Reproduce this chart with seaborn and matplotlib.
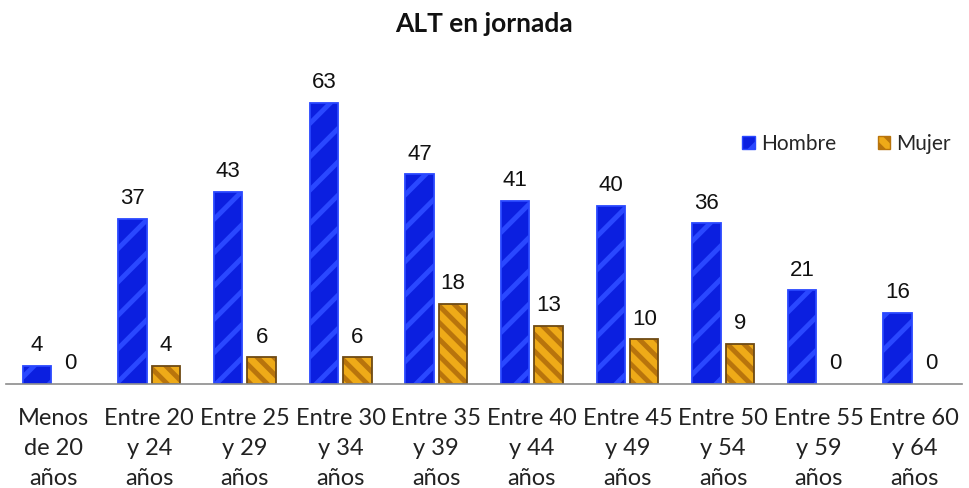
import matplotlib
matplotlib.use("Agg")
import matplotlib.pyplot as plt
from matplotlib.patches import Rectangle
import pandas as pd
import seaborn as sns

# datos
categorias = ["Menos\nde 20\naños", "Entre 20\ny 24\naños", "Entre 25\ny 29\naños",
              "Entre 30\ny 34\naños", "Entre 35\ny 39\naños", "Entre 40\ny 44\naños",
              "Entre 45\ny 49\naños", "Entre 50\ny 54\naños", "Entre 55\ny 59\naños",
              "Entre 60\ny 64\naños"]
hombre = [4, 37, 43, 63, 47, 41, 40, 36, 21, 16]
mujer = [0, 4, 6, 6, 18, 13, 10, 9, 0, 0]
series = ["Hombre", "Mujer"]

df = pd.DataFrame({
    "grupo": categorias * 2,
    "valor": hombre + mujer,
    "sexo": [series[0]] * len(hombre) + [series[1]] * len(mujer),
})

sns.set_style("white")
plt.rcParams["font.family"] = ["Lato", "DejaVu Sans"]
plt.rcParams["hatch.linewidth"] = 3.5

fig = plt.figure(figsize=(9.69, 4.88), dpi=100)
ax = fig.add_axes([0.006, 0.213, 0.987, 0.64])

colores = {"Hombre": "#0b1fe0", "Mujer": "#eeaa18"}
sns.barplot(data=df, x="grupo", y="valor", hue="sexo", order=categorias,
            hue_order=series, palette=colores, width=0.7, gap=0.15, saturation=1,
            ax=ax, legend=True)

# rayado (color del rayado = edgecolor) y contorno aparte
rayas = ["#2a48ff", "#b8740c"]
bordes = ["#2a48ff", "#6e4a14"]
hatches = ["/", "\\\\"]
for cont, ray, borde, hatch in zip(ax.containers, rayas, bordes, hatches):
    for bar in cont:
        bar.set_edgecolor(ray)
        bar.set_linewidth(0)
        bar.set_hatch(hatch)
        if bar.get_height() > 0:
            ax.add_patch(Rectangle(bar.get_xy(), bar.get_width(), bar.get_height(),
                                   fill=False, edgecolor=borde, linewidth=1.3, zorder=3))
    ax.bar_label(cont, padding=7, fontsize=16, family="Liberation Sans", color="#111111")

ax.set_ylim(0, 70)
ax.set_xlim(-0.5, len(categorias) - 0.5)
ax.set_xlabel("")
ax.set_ylabel("")
ax.set_yticks([])
ax.tick_params(axis="x", length=0, pad=17, labelsize=17, labelcolor="#222222")
for lab in ax.get_xticklabels():
    lab.set_linespacing(1.55)
for s in ["top", "right", "left"]:
    ax.spines[s].set_visible(False)
ax.spines["bottom"].set_color("#8c8c8c")
ax.spines["bottom"].set_linewidth(1.2)
ax.spines["bottom"].set_zorder(4)

leg = ax.legend(loc="upper right", bbox_to_anchor=(1.008, 0.86), ncol=2, frameon=False,
                fontsize=15, handlelength=0.6, handleheight=0.6, handletextpad=0.3,
                columnspacing=2.0)
for h, ray, hatch in zip(leg.legend_handles, rayas, hatches):
    h.set_edgecolor(ray)
    h.set_hatch(hatch)

fig.suptitle("ALT en jornada", y=0.975, fontsize=19, fontweight="bold", color="#111111")

fig.savefig("out.png", dpi=100)
